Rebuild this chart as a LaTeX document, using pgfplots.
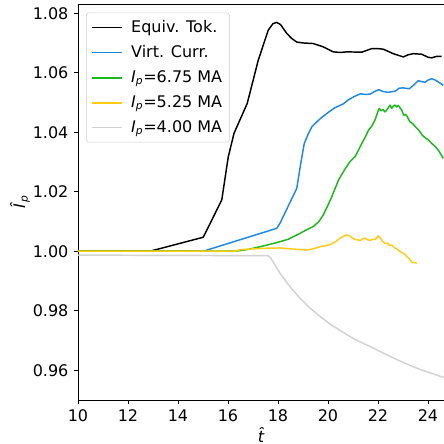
\documentclass[border=0pt]{standalone}
\usepackage{fontspec}
\setmainfont{DejaVu Sans}
\usepackage{pgfplots}
\pgfplotsset{compat=1.18}
\definecolor{cblue}{RGB}{30,136,229}
\definecolor{cgreen}{RGB}{25,185,25}
\definecolor{cyellow}{RGB}{255,204,20}
\definecolor{cgray}{RGB}{210,210,210}
\begin{document}
\fontsize{12}{14.4}\selectfont
\begin{tikzpicture}
\begin{axis}[
  scale only axis, width=274.5pt, height=296.8pt,
  xmin=10, xmax=24.64, ymin=0.95, ymax=1.083,
  axis y line*=left,
  xtick={10,12,14,16,18,20,22,24},
  ytick={0.96,0.98,1.00,1.02,1.04,1.06,1.08},
  xtick pos=left,
  tick align=outside, major tick length=3pt,
  tick style={black, line width=0.6pt},
  axis line style={line width=0.6pt},
  font=\fontsize{12}{14.4}\selectfont,
  /pgf/number format/assume math mode=true,
  yticklabel style={/pgf/number format/.cd,fixed,fixed zerofill,precision=2},
  xticklabel style={/pgf/number format/.cd,fixed},
  xlabel={\textit{\^{t}}},
  ylabel={\textit{\^{I}}\textsubscript{\textit{p}}},
  every axis x label/.style={at={([yshift=-26pt]axis description cs:0.5,0)}, anchor=center},
  every axis y label/.style={at={([xshift=-43.5pt]axis description cs:0,0.5)}, anchor=center, rotate=90},
  legend cell align=left,
  legend image code/.code={\draw[#1, line width=1.2pt, line cap=butt] (0pt,0pt)--(23pt,0pt); \path (27pt,0pt);},
  legend style={at={(0.022,0.979)}, anchor=north west, draw=black!18, fill=white, rounded corners=2pt,
    font=\fontsize{12}{14.4}\selectfont, row sep=4pt, inner xsep=3.5pt, inner ysep=3.5pt},
  every axis plot/.append style={line width=1.1pt, line join=round},
]
\addplot[black] coordinates {(10,1.0000)(12.88,1.0000)(15.01,1.0047)(15.75,1.0172)(16.01,1.0317)(16.24,1.0396)(16.77,1.0497)(17.21,1.0642)(17.61,1.0743)(17.8,1.0765)(17.95,1.0769)(18.1,1.0762)(18.35,1.0732)(18.55,1.0715)(18.75,1.0703)(19.0,1.0700)(19.41,1.0698)(19.81,1.0687)(20.21,1.0670)(20.5,1.0668)(20.75,1.0670)(21.35,1.0669)(21.75,1.0681)(22.0,1.0681)(22.21,1.0679)(22.61,1.0664)(23.01,1.0653)(23.2,1.0660)(23.41,1.0664)(23.75,1.0662)(24.0,1.0652)(24.15,1.0650)(24.35,1.0655)(24.55,1.0655)};
\addplot[cblue] coordinates {(10,1.0000)(15.01,1.0000)(17.95,1.0077)(18.08,1.0094)(18.4,1.0150)(18.75,1.0211)(18.9,1.0290)(19.05,1.0362)(19.2,1.0392)(19.35,1.0418)(19.68,1.0445)(20.0,1.0466)(20.25,1.0481)(20.4,1.0487)(20.61,1.0495)(20.8,1.0508)(21.05,1.0520)(21.3,1.0529)(21.5,1.0527)(21.68,1.0528)(21.85,1.0536)(22.03,1.0543)(22.2,1.0537)(22.41,1.0534)(22.69,1.0538)(22.85,1.0548)(23.0,1.0549)(23.25,1.0546)(23.45,1.0560)(23.61,1.0573)(23.75,1.0570)(23.88,1.0568)(24.0,1.0575)(24.15,1.0580)(24.3,1.0575)(24.41,1.0569)(24.61,1.0558)};
\addplot[cgreen] coordinates {(10,1.0000)(16.3,1.0000)(16.8,1.0006)(17.28,1.0015)(17.95,1.0029)(18.4,1.0040)(18.88,1.0060)(19.1,1.0070)(19.41,1.0083)(19.63,1.0099)(19.81,1.0122)(20.0,1.0155)(20.15,1.0183)(20.42,1.0239)(20.65,1.0272)(20.88,1.0301)(21.1,1.0320)(21.35,1.0362)(21.5,1.0385)(21.62,1.0407)(21.75,1.0420)(21.88,1.0441)(22.0,1.0470)(22.05,1.0480)(22.12,1.0472)(22.2,1.0476)(22.28,1.0468)(22.35,1.0475)(22.42,1.0483)(22.48,1.0491)(22.55,1.0480)(22.62,1.0489)(22.69,1.0491)(22.75,1.0485)(22.81,1.0490)(22.88,1.0482)(22.95,1.0474)(23.03,1.0457)(23.1,1.0460)(23.15,1.0455)(23.28,1.0435)(23.4,1.0428)(23.5,1.0418)(23.65,1.0405)(23.75,1.0392)(23.85,1.0384)(24.03,1.0373)(24.15,1.0362)(24.25,1.0355)(24.35,1.0346)(24.45,1.0335)(24.61,1.0312)};
\addplot[cyellow] coordinates {(10,1.0000)(16.3,1.0000)(16.48,1.0005)(17.01,1.0008)(17.5,1.0010)(18.08,1.0011)(18.5,1.0008)(19.15,1.0004)(19.4,1.0008)(19.68,1.0015)(20.08,1.0022)(20.3,1.0032)(20.5,1.0045)(20.75,1.0055)(20.85,1.0052)(20.95,1.0046)(21.08,1.0040)(21.2,1.0038)(21.28,1.0036)(21.38,1.0041)(21.48,1.0044)(21.58,1.0039)(21.68,1.0036)(21.78,1.0040)(21.9,1.0040)(22.01,1.0052)(22.1,1.0043)(22.2,1.0032)(22.28,1.0026)(22.38,1.0027)(22.45,1.0020)(22.55,1.0021)(22.65,1.0012)(22.75,1.0008)(22.81,1.0004)(22.9,0.9998)(23.0,0.9993)(23.08,0.9990)(23.15,0.9982)(23.25,0.9975)(23.35,0.9963)(23.45,0.9962)(23.55,0.9960)};
\addplot[cgray] coordinates {(10,0.9987)(17.6,0.9985)(17.7,0.9978)(17.88,0.9954)(18.08,0.9926)(18.48,0.9881)(18.88,0.9842)(19.28,0.9809)(19.68,0.9781)(20.08,0.9755)(20.81,0.9717)(21.09,0.9703)(21.6,0.9683)(22.16,0.9660)(22.7,0.9638)(23.23,0.9618)(23.7,0.9602)(24.2,0.9588)(24.65,0.9575)};
\legend{Equiv. Tok., Virt. Curr., \textit{I}\textsubscript{\textit{p}}=6.75 MA, \textit{I}\textsubscript{\textit{p}}=5.25 MA, \textit{I}\textsubscript{\textit{p}}=4.00 MA}
\end{axis}
\pgfresetboundingbox
\path[use as bounding box] (-58.5pt,-33pt) rectangle (274.5pt,300pt);
\end{tikzpicture}
\end{document}
